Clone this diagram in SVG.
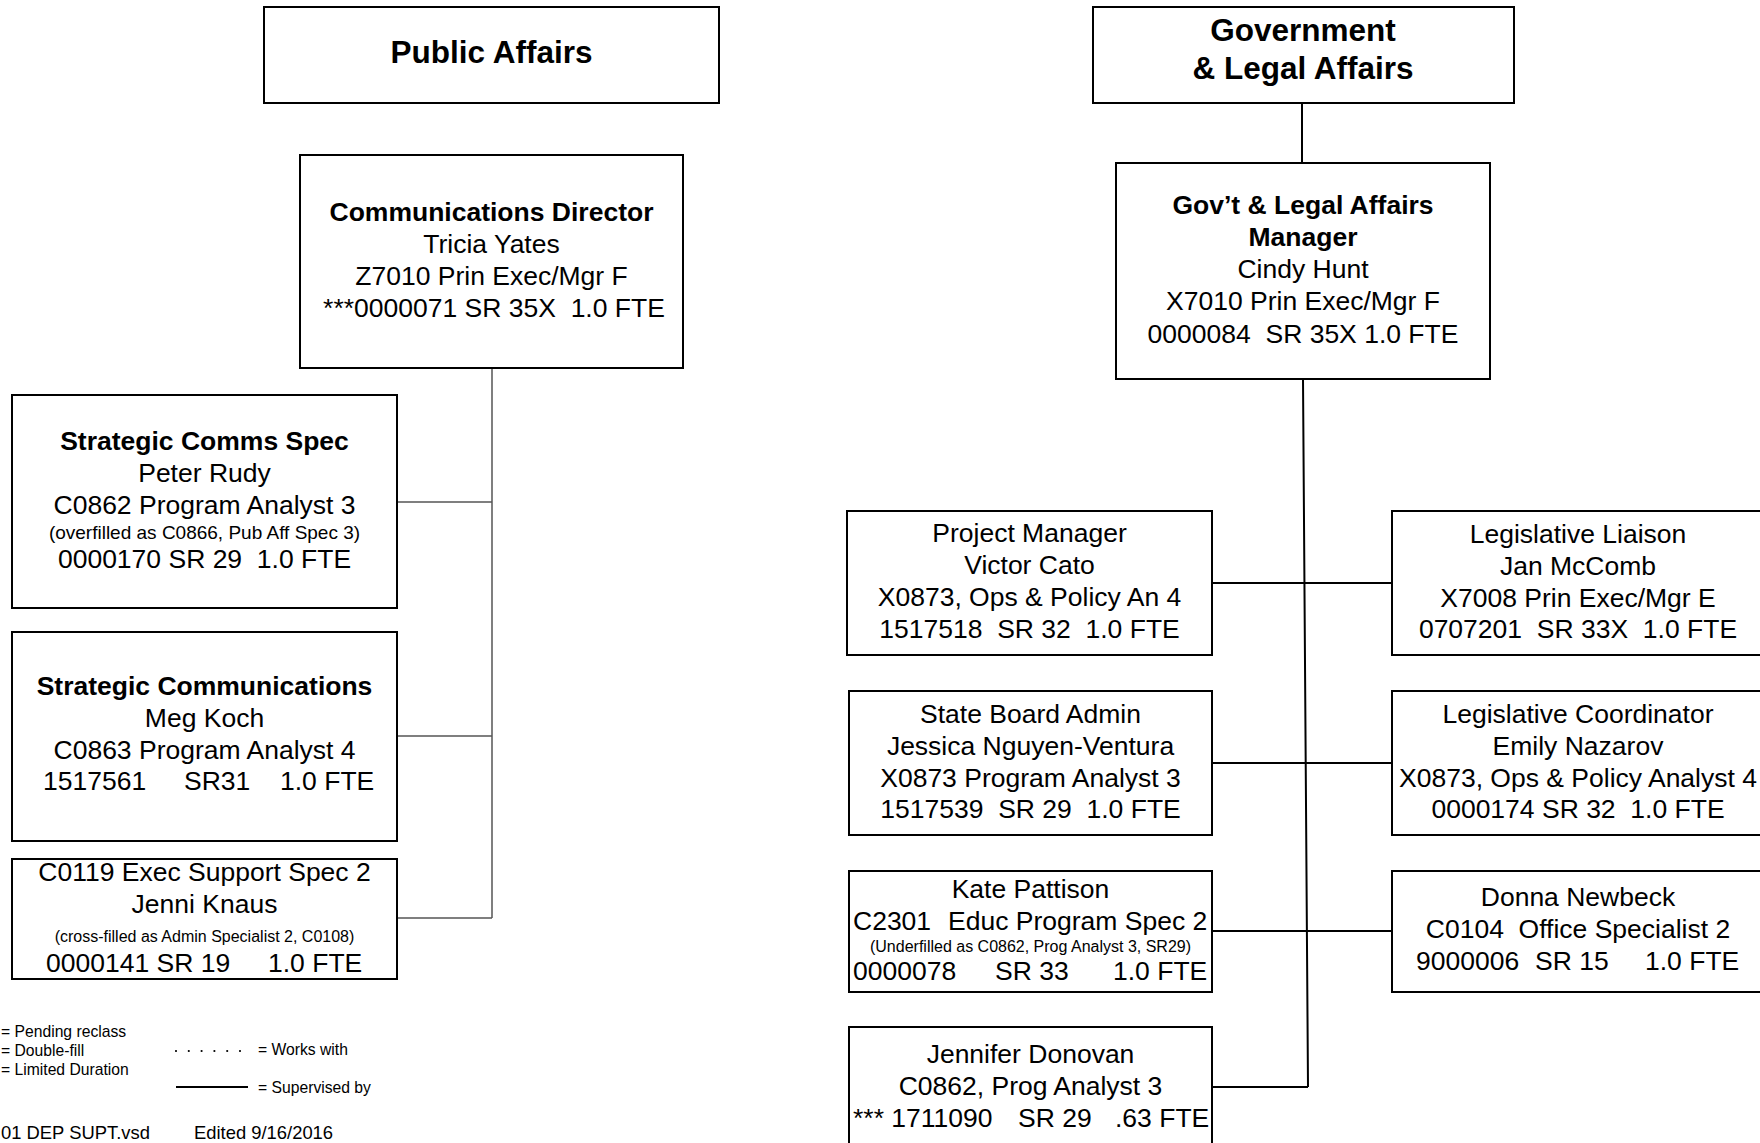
<svg xmlns="http://www.w3.org/2000/svg" width="1760" height="1143" viewBox="0 0 1760 1143" xml:space="preserve">
<style>
.box{fill:#fff;stroke:#000;stroke-width:2}
text{font-family:"Liberation Sans",Arial,sans-serif;font-size:26.5px;fill:#000;text-anchor:middle;white-space:pre}
.b{font-weight:bold}
.h{font-size:31.5px;font-weight:bold}
.s19{font-size:19px}
.s16{font-size:16px}
.st{text-anchor:start}
.lg{font-size:15.7px;text-anchor:start}
.ft{font-size:18.4px}
.conL{stroke:#555;stroke-width:1.5;fill:none}
.conR{stroke:#000;stroke-width:2;fill:none}
</style>
<rect width="1760" height="1143" fill="#fff"/>
<g id="connectors">
<path class="conL" d="M492,368 V918 M397,502 H492 M397,736 H492 M397,918 H492"/>
<path class="conR" d="M1302,103 V163 M1303,379 L1308,1087 M1212,583 H1392 M1212,763 H1392 M1212,931 H1392 M1212,1087 H1308"/>
</g>
<g id="public-affairs">
<rect class="box" x="264" y="7" width="455" height="96"/>
<text class="h" x="491.5" y="63">Public Affairs</text>
</g>
<g id="communications-director">
<rect class="box" x="300" y="155" width="383" height="213"/>
<text class="b" x="491.5" y="221">Communications Director</text>
<text x="491.5" y="253">Tricia Yates</text>
<text x="491.5" y="285">Z7010 Prin Exec/Mgr F</text>
<text x="494" y="317">***0000071 SR 35X  1.0 FTE</text>
</g>
<g id="strategic-comms-spec">
<rect class="box" x="12" y="395" width="385" height="213"/>
<text class="b" x="204.5" y="450">Strategic Comms Spec</text>
<text x="204.5" y="482">Peter Rudy</text>
<text x="204.5" y="514">C0862 Program Analyst 3</text>
<text class="s19" x="204.5" y="539">(overfilled as C0866, Pub Aff Spec 3)</text>
<text x="204.5" y="568">0000170 SR 29  1.0 FTE</text>
</g>
<g id="strategic-communications">
<rect class="box" x="12" y="632" width="385" height="209"/>
<text class="b" x="204.5" y="695">Strategic Communications</text>
<text x="204.5" y="727">Meg Koch</text>
<text x="204.5" y="759">C0863 Program Analyst 4</text>
<text class="st" y="790"><tspan x="43">1517561</tspan><tspan x="184">SR31</tspan><tspan x="280">1.0 FTE</tspan></text>
</g>
<g id="exec-support-spec">
<rect class="box" x="12" y="859" width="385" height="120"/>
<text x="204.5" y="881">C0119 Exec Support Spec 2</text>
<text x="204.5" y="913">Jenni Knaus</text>
<text class="s16" x="204.5" y="942">(cross-filled as Admin Specialist 2, C0108)</text>
<text class="st" y="972"><tspan x="46">0000141 SR 19</tspan><tspan x="268">1.0 FTE</tspan></text>
</g>
<g id="legend">
<text class="lg" x="1" y="1037">= Pending reclass</text>
<text class="lg" x="1" y="1056">= Double-fill</text>
<text class="lg" x="1" y="1075">= Limited Duration</text>
<path d="M176,1051 H242" stroke="#000" stroke-width="2.2" stroke-linecap="round" stroke-dasharray="0 12.8" fill="none"/>
<text class="lg" x="258" y="1055">= Works with</text>
<path d="M176,1087 H248" stroke="#000" stroke-width="2" fill="none"/>
<text class="lg" x="258" y="1093">= Supervised by</text>
<text class="ft st" x="1" y="1139">01 DEP SUPT.vsd</text>
<text class="ft st" x="194" y="1139">Edited 9/16/2016</text>
</g>
<g id="gov-legal-affairs">
<rect class="box" x="1093" y="7" width="421" height="96"/>
<text class="h" x="1303" y="41">Government</text>
<text class="h" x="1303" y="79">&amp; Legal Affairs</text>
</g>
<g id="gov-legal-manager">
<rect class="box" x="1116" y="163" width="374" height="216"/>
<text class="b" x="1303" y="214">Gov’t &amp; Legal Affairs</text>
<text class="b" x="1303" y="246">Manager</text>
<text x="1303" y="278">Cindy Hunt</text>
<text x="1303" y="310">X7010 Prin Exec/Mgr F</text>
<text x="1303" y="343">0000084  SR 35X 1.0 FTE</text>
</g>
<g id="project-manager">
<rect class="box" x="847" y="511" width="365" height="144"/>
<text x="1029.5" y="542">Project Manager</text>
<text x="1029.5" y="574">Victor Cato</text>
<text x="1029.5" y="606">X0873, Ops &amp; Policy An 4</text>
<text x="1029.5" y="638">1517518  SR 32  1.0 FTE</text>
</g>
<g id="state-board-admin">
<rect class="box" x="849" y="691" width="363" height="144"/>
<text x="1030.5" y="723">State Board Admin</text>
<text x="1030.5" y="755">Jessica Nguyen-Ventura</text>
<text x="1030.5" y="787">X0873 Program Analyst 3</text>
<text x="1030.5" y="818">1517539  SR 29  1.0 FTE</text>
</g>
<g id="kate-pattison">
<rect class="box" x="849" y="871" width="363" height="121"/>
<text x="1030.5" y="898">Kate Pattison</text>
<text class="st" y="930"><tspan x="853">C2301</tspan><tspan x="948">Educ Program Spec 2</tspan></text>
<text class="s16" x="1030.5" y="952">(Underfilled as C0862, Prog Analyst 3, SR29)</text>
<text class="st" y="980"><tspan x="853">0000078</tspan><tspan x="995">SR 33</tspan><tspan x="1113">1.0 FTE</tspan></text>
</g>
<g id="jennifer-donovan">
<rect class="box" x="849" y="1027" width="363" height="160"/>
<text x="1030.5" y="1063">Jennifer Donovan</text>
<text x="1030.5" y="1095">C0862, Prog Analyst 3</text>
<text class="st" y="1127"><tspan x="853">*** 1711090</tspan><tspan x="1018">SR 29</tspan><tspan x="1115">.63 FTE</tspan></text>
</g>
<g id="legislative-liaison">
<rect class="box" x="1392" y="511" width="372" height="144"/>
<text x="1578" y="543">Legislative Liaison</text>
<text x="1578" y="575">Jan McComb</text>
<text x="1578" y="607">X7008 Prin Exec/Mgr E</text>
<text x="1578" y="638">0707201  SR 33X  1.0 FTE</text>
</g>
<g id="legislative-coordinator">
<rect class="box" x="1392" y="691" width="372" height="144"/>
<text x="1578" y="723">Legislative Coordinator</text>
<text x="1578" y="755">Emily Nazarov</text>
<text x="1578" y="787">X0873, Ops &amp; Policy Analyst 4</text>
<text x="1578" y="818">0000174 SR 32  1.0 FTE</text>
</g>
<g id="donna-newbeck">
<rect class="box" x="1392" y="871" width="372" height="121"/>
<text x="1578" y="906">Donna Newbeck</text>
<text x="1578" y="938">C0104  Office Specialist 2</text>
<text class="st" y="970"><tspan x="1416">9000006</tspan><tspan x="1535">SR 15</tspan><tspan x="1645">1.0 FTE</tspan></text>
</g>
</svg>
